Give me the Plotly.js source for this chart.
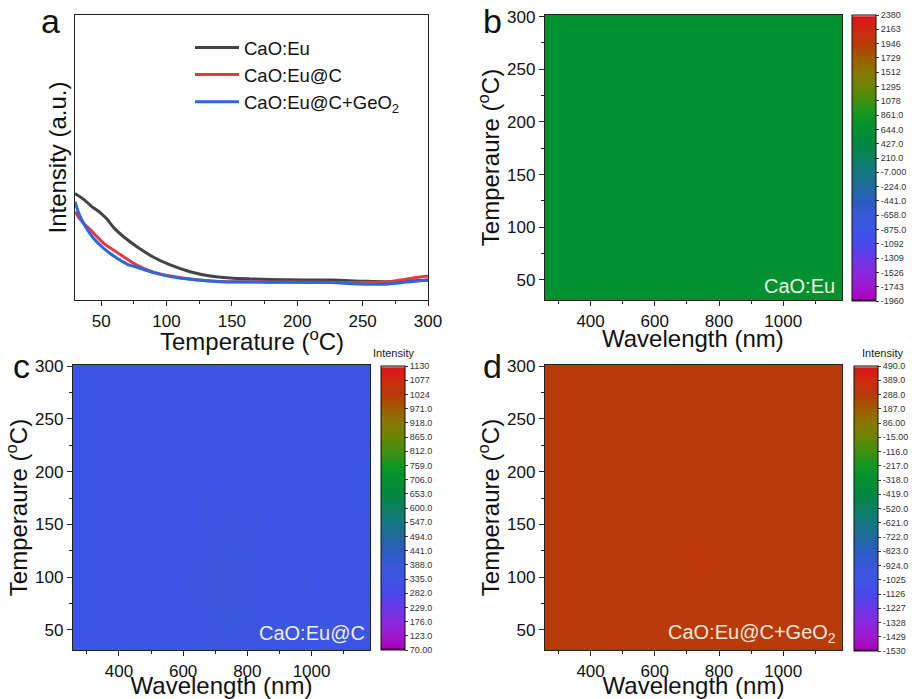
<!DOCTYPE html>
<html>
<head>
<meta charset="utf-8">
<script src="https://cdn.plot.ly/plotly-3.0.1.min.js"></script>
<style>html,body{margin:0;padding:0;background:#fff}#chart{width:912px;height:699px}</style>
</head>
<body>
<div id="chart"></div>
<script>
// ---------- Panel a: temperature-dependent intensity ----------
const tempEu = [30, 36.7, 43.1, 49.5, 54.6, 59.6, 67.2, 77.4, 90.1, 102.8, 118.1, 133.4, 148.6, 163.9, 190, 227, 250, 270, 300];
const intEu  = [37.4, 35.3, 32.7, 30.6, 28.3, 25.4, 22.2, 18.7, 15.0, 12.3, 9.9, 8.4, 7.7, 7.4, 7.1, 7.0, 6.6, 6.4, 7.0];
const tempEuC = [30, 34.2, 41.8, 52, 59.6, 67.2, 74.9, 82.5, 90.1, 103, 123, 141, 164, 190, 227, 242, 260, 270, 284, 300];
const intEuC  = [31.0, 28.1, 24.6, 19.9, 17.5, 15.2, 12.9, 11.1, 9.8, 8.4, 7.1, 6.5, 6.4, 6.3, 6.2, 6.1, 6.2, 6.4, 7.4, 8.4];
const tempEuCGe = [30, 32.9, 38, 44.3, 52, 59.6, 69.8, 77.4, 90.1, 102.8, 123.2, 140.9, 163.9, 190, 227, 242, 260, 270, 284, 300];
const intEuCGe  = [34.5, 30.4, 25.7, 21.6, 18.1, 15.4, 12.6, 11.5, 9.6, 8.2, 7.0, 6.4, 6.3, 6.2, 6.1, 5.7, 5.5, 5.6, 6.3, 7.0];

// ---------- Panels b-d: intensity maps (wavelength x temperature) ----------
const mapWlB = [200, 1250];
const mapTB = [0, 330];
const mapZB = [[644, 644], [644, 644]];

const mapWlC = [200, 620, 680, 740, 800, 860, 1250];
const mapTC  = [0, 40, 80, 110, 140, 170, 200, 330];
const mapZC = [
  [335, 335, 345, 352, 345, 336, 335],
  [335, 336, 352, 362, 352, 337, 335],
  [335, 337, 358, 370, 358, 338, 335],
  [335, 337, 358, 370, 358, 338, 335],
  [335, 336, 352, 360, 350, 337, 335],
  [335, 335, 340, 345, 340, 335, 335],
  [335, 335, 335, 335, 335, 335, 335],
  [335, 335, 335, 335, 335, 335, 335]
];

const mapWlD = [200, 620, 680, 740, 800, 860, 1250];
const mapTD  = [0, 60, 90, 115, 140, 170, 330];
const mapZD = [
  [288, 288, 288, 288, 288, 288, 288],
  [288, 288, 288, 290, 288, 288, 288],
  [288, 288, 292, 300, 292, 288, 288],
  [288, 288, 298, 318, 298, 288, 288],
  [288, 288, 292, 300, 292, 288, 288],
  [288, 288, 288, 290, 288, 288, 288],
  [288, 288, 288, 288, 288, 288, 288]
];

// ---------- colour bar ticks ----------
const cbTickB = [2380, 2163, 1946, 1729, 1512, 1295, 1078, 861, 644, 427, 210, -7, -224, -441, -658, -875, -1092, -1309, -1526, -1743, -1960];
const cbTextB = ["2380","2163","1946","1729","1512","1295","1078","861.0","644.0","427.0","210.0","-7.000","-224.0","-441.0","-658.0","-875.0","-1092","-1309","-1526","-1743","-1960"];
const cbTickC = [1130, 1077, 1024, 971, 918, 865, 812, 759, 706, 653, 600, 547, 494, 441, 388, 335, 282, 229, 176, 123, 70];
const cbTextC = ["1130","1077","1024","971.0","918.0","865.0","812.0","759.0","706.0","653.0","600.0","547.0","494.0","441.0","388.0","335.0","282.0","229.0","176.0","123.0","70.00"];
const cbTickD = [490, 389, 288, 187, 86, -15, -116, -217, -318, -419, -520, -621, -722, -823, -924, -1025, -1126, -1227, -1328, -1429, -1530];
const cbTextD = ["490.0","389.0","288.0","187.0","86.00","-15.00","-116.0","-217.0","-318.0","-419.0","-520.0","-621.0","-722.0","-823.0","-924.0","-1025","-1126","-1227","-1328","-1429","-1530"];

const rainbow = [
  [0.0, '#1a001a'], [0.008, '#a800b8'], [0.05, '#a018d0'], [0.1, '#8a28e0'], [0.15, '#6a38e8'],
  [0.2, '#4848ee'], [0.25, '#3d55e6'], [0.3, '#3858d8'], [0.35, '#2a5cc0'], [0.4, '#1e6a9c'],
  [0.45, '#147880'], [0.5, '#0a8060'], [0.55, '#00883e'], [0.6, '#009030'], [0.65, '#109820'],
  [0.7, '#409010'], [0.75, '#6a8400'], [0.8, '#887800'], [0.85, '#a05a00'], [0.9, '#b83a08'],
  [0.95, '#d02810'], [0.993, '#dc1616'], [1.0, '#ffffff']
];

const FONT = 'Arial, "Liberation Sans", sans-serif';
const P = v => v / 912;
const Q = v => 1 - v / 699;

function cbar(xpx, ytop, ybot, vals, txt) {
  return {
    x: P(xpx), xanchor: 'left', xpad: 0, ypad: 0,
    y: Q(ytop), yanchor: 'top', lenmode: 'pixels', len: ybot - ytop,
    thickness: 24, thicknessmode: 'pixels',
    outlinecolor: '#111', outlinewidth: 1,
    tickmode: 'array', tickvals: vals, ticktext: txt,
    ticks: 'outside', ticklen: 3, tickcolor: '#333', tickwidth: 1,
    tickfont: {family: FONT, size: 9, color: '#333'}
  };
}

const traces = [
  {x: tempEu, y: intEu, type: 'scatter', mode: 'lines', name: 'CaO:Eu', line: {color: '#444444', width: 3, shape: 'spline', smoothing: 0.8}, xaxis: 'x', yaxis: 'y'},
  {x: tempEuC, y: intEuC, type: 'scatter', mode: 'lines', name: 'CaO:Eu@C', line: {color: '#e8383d', width: 3, shape: 'spline', smoothing: 0.7}, xaxis: 'x', yaxis: 'y'},
  {x: tempEuCGe, y: intEuCGe, type: 'scatter', mode: 'lines', name: 'CaO:Eu@C+GeO<sub>2</sub>', line: {color: '#2a68e0', width: 3, shape: 'spline', smoothing: 0.7}, xaxis: 'x', yaxis: 'y'},
  {x: mapWlB, y: mapTB, z: mapZB, type: 'heatmap', xaxis: 'x2', yaxis: 'y2', zmin: -1960, zmax: 2380,
   colorscale: rainbow, zsmooth: 'best', showlegend: false, colorbar: cbar(852, 15, 301, cbTickB, cbTextB)},
  {x: mapWlC, y: mapTC, z: mapZC, type: 'heatmap', xaxis: 'x3', yaxis: 'y3', zmin: 70, zmax: 1130,
   colorscale: rainbow, zsmooth: 'best', showlegend: false, colorbar: cbar(381, 366, 650, cbTickC, cbTextC)},
  {x: mapWlD, y: mapTD, z: mapZD, type: 'heatmap', xaxis: 'x4', yaxis: 'y4', zmin: -1530, zmax: 490,
   colorscale: rainbow, zsmooth: 'best', showlegend: false, colorbar: cbar(854, 366, 651, cbTickD, cbTextD)}
];

const axBase = {
  showline: true, mirror: true, linecolor: '#222', linewidth: 1.2,
  showgrid: false, zeroline: false,
  ticks: 'outside', ticklen: 5, tickcolor: '#222', tickwidth: 1,
  tickfont: {family: FONT, size: 17, color: '#111'}
};
function xa(dom, range, dtick, mdtick, title, anchor) {
  return Object.assign({}, axBase, {
    domain: dom, range: range, anchor: anchor, tickmode: 'linear', tick0: 0, dtick: dtick,
    minor: {dtick: mdtick, tick0: 0, ticks: 'outside', ticklen: 3, tickcolor: '#222', showgrid: false},
    title: {text: title, font: {family: FONT, size: 24, color: '#111'}, standoff: 0}
  });
}
function ya(dom, range, title, anchor) {
  return Object.assign({}, axBase, {
    domain: dom, range: range, anchor: anchor, tickmode: 'linear', tick0: 0, dtick: 50,
    minor: {dtick: 25, tick0: 0, ticks: 'outside', ticklen: 3, tickcolor: '#222', showgrid: false},
    title: {text: title, font: {family: FONT, size: 24, color: '#111'}, standoff: 0}
  });
}

const xDomL = [P(75), P(428)], xDomR = [P(545), P(842)], xDomC = [P(73), P(370)];
const yDomT = [Q(300), Q(15)], yDomB = [Q(650), Q(365)];
const tTitle = 'Temperaure (<sup>o</sup>C)';
const T24 = {family: FONT, size: 24, color: '#111'};

const layout = {
  width: 912, height: 699,
  margin: {l: 0, r: 0, t: 0, b: 0},
  paper_bgcolor: '#fff', plot_bgcolor: '#fff',
  font: {family: FONT, color: '#111'},
  showlegend: true,
  legend: {x: P(190), y: Q(29), xanchor: 'left', yanchor: 'top', bgcolor: 'rgba(0,0,0,0)', itemwidth: 44,
           font: {family: FONT, size: 18.5, color: '#111'}, tracegroupgap: 0},
  xaxis: xa(xDomL, [30, 300], 50, 25, '', 'y'),
  yaxis: Object.assign({}, axBase, {domain: yDomT, range: [0, 100], anchor: 'x', ticks: '', showticklabels: false,
    title: {text: 'Intensity (a.u.)', font: T24, standoff: 0}}),
  xaxis2: xa(xDomR, [258, 1183], 200, 100, '', 'y2'),
  yaxis2: ya(yDomT, [31, 301.5], tTitle, 'x2'),
  xaxis3: xa(xDomC, [257, 1182], 200, 100, 'Wavelength (nm)', 'y3'),
  yaxis3: ya(yDomB, [31, 301], tTitle, 'x3'),
  xaxis4: xa(xDomR, [258, 1183], 200, 100, 'Wavelength (nm)', 'y4'),
  yaxis4: ya(yDomB, [31, 301], tTitle, 'x4'),
  annotations: [
    {text: 'Temperature (<sup>o</sup>C)', x: P(252), y: Q(340), xref: 'paper', yref: 'paper', showarrow: false, xanchor: 'center', yanchor: 'middle', font: T24},
    {text: 'Wavelength (nm)', x: P(693), y: Q(338), xref: 'paper', yref: 'paper', showarrow: false, xanchor: 'center', yanchor: 'middle', font: T24},
    {text: 'a', x: P(50), y: Q(21), xref: 'paper', yref: 'paper', showarrow: false, xanchor: 'center', yanchor: 'middle', font: {family: FONT, size: 34, color: '#111'}},
    {text: 'b', x: P(492), y: Q(21), xref: 'paper', yref: 'paper', showarrow: false, xanchor: 'center', yanchor: 'middle', font: {family: FONT, size: 34, color: '#111'}},
    {text: 'c', x: P(21), y: Q(366), xref: 'paper', yref: 'paper', showarrow: false, xanchor: 'center', yanchor: 'middle', font: {family: FONT, size: 34, color: '#111'}},
    {text: 'd', x: P(492), y: Q(366), xref: 'paper', yref: 'paper', showarrow: false, xanchor: 'center', yanchor: 'middle', font: {family: FONT, size: 34, color: '#111'}},
    {text: 'CaO:Eu', x: P(837), y: Q(286), xref: 'paper', yref: 'paper', showarrow: false, xanchor: 'right', yanchor: 'middle', font: {family: FONT, size: 20, color: '#eef2e4'}},
    {text: 'CaO:Eu@C', x: P(367), y: Q(633), xref: 'paper', yref: 'paper', showarrow: false, xanchor: 'right', yanchor: 'middle', font: {family: FONT, size: 20, color: '#eef0f8'}},
    {text: 'CaO:Eu@C+GeO<sub>2</sub>', x: P(838), y: Q(633), xref: 'paper', yref: 'paper', showarrow: false, xanchor: 'right', yanchor: 'middle', font: {family: FONT, size: 20, color: '#f6ead8'}},
    {text: 'Intensity', x: P(393), y: Q(353), xref: 'paper', yref: 'paper', showarrow: false, xanchor: 'center', yanchor: 'middle', font: {family: FONT, size: 11, color: '#222'}},
    {text: 'Intensity', x: P(882), y: Q(353), xref: 'paper', yref: 'paper', showarrow: false, xanchor: 'center', yanchor: 'middle', font: {family: FONT, size: 11, color: '#222'}}
  ]
};

Plotly.newPlot('chart', traces, layout, {displayModeBar: false, staticPlot: true});
</script>
</body>
</html>
